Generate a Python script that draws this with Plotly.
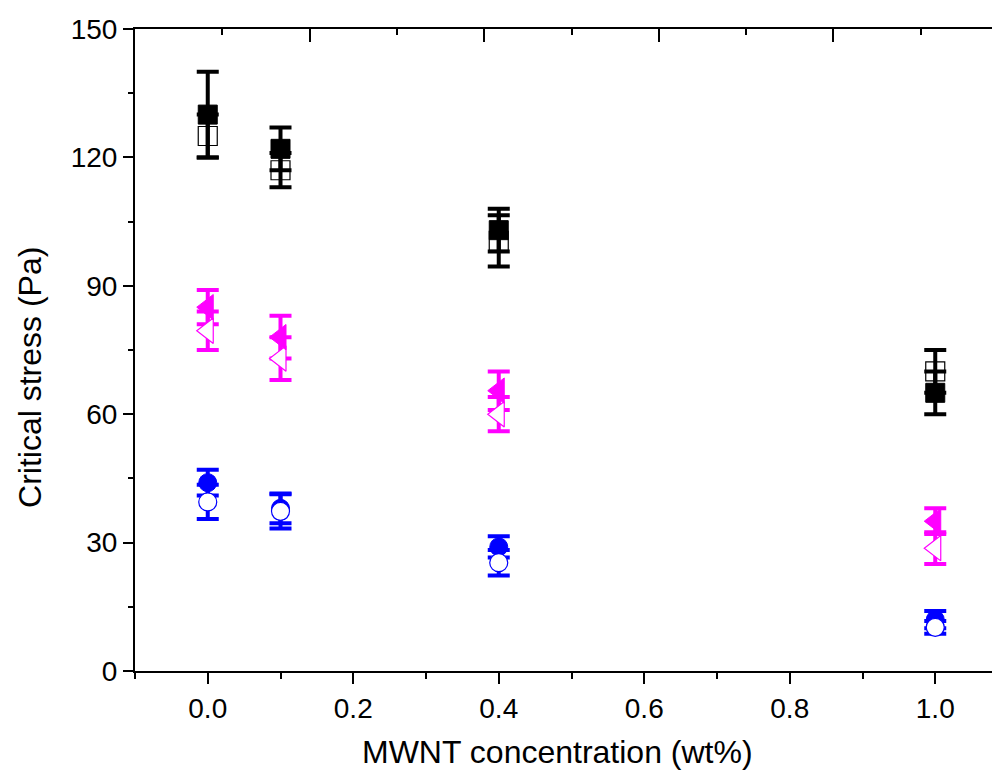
import plotly.graph_objects as go

# MWNT concentration (wt%)
conc = [0.0, 0.1, 0.4, 1.0]

# Black squares
black_filled = [130, 122, 103, 65]
black_filled_err = [10, 5, 5, 5]
black_open = [125, 117, 100.5, 70]
black_open_err = [5, 4, 6, 5]

# Magenta triangles
mag_filled = [85, 78, 65.5, 35]
mag_filled_err = [4, 5, 4.5, 3]
mag_open = [79.5, 73, 60, 28.7]
mag_open_err = [4.5, 5, 4, 3.7]

# Blue circles
blue_filled = [44, 38, 29, 12]
blue_filled_err = [3, 3.5, 2.5, 2]
blue_open = [39.5, 37.3, 25.3, 10.2]
blue_open_err = [4, 4, 3, 1.5]

x_ticks = [0.0, 0.2, 0.4, 0.6, 0.8, 1.0]
y_ticks = [0, 30, 60, 90, 120, 150]

x_title = "MWNT concentration (wt%)"
y_title = "Critical stress (Pa)"

FONT = "Liberation Sans, Arial, sans-serif"
BLACK, MAG, BLUE = "black", "#ff00ff", "#0000ff"

series = [
    # (values, errors, colour, symbol, size, fill, line width) in drawing order
    (black_open, black_open_err, BLACK, "square-open", 19, BLACK, 1.2),
    (mag_open, mag_open_err, MAG, "triangle-left", 22, "white", 1.2),
    (black_filled, black_filled_err, BLACK, "square", 19, BLACK, 1),
    (mag_filled, mag_filled_err, MAG, "triangle-left", 22, MAG, 1),
    (blue_filled, blue_filled_err, BLUE, "circle", 18, BLUE, 1),
    (blue_open, blue_open_err, BLUE, "circle", 18, "white", 1.2),
]

fig = go.Figure()

# error bars first
for y, err, color, symbol, size, fill, lw in series:
    fig.add_trace(go.Scatter(
        x=conc, y=y, mode="markers",
        marker=dict(size=1, opacity=0),
        error_y=dict(type="data", array=err, visible=True,
                     color=color, thickness=4, width=11),
        showlegend=False, cliponaxis=False, hoverinfo="skip",
    ))
# markers on top
for y, err, color, symbol, size, fill, lw in series:
    fig.add_trace(go.Scatter(
        x=conc, y=y, mode="markers",
        marker=dict(symbol=symbol, size=size, color=fill,
                    line=dict(color=color, width=lw)),
        showlegend=False, cliponaxis=False,
    ))

# dummy trace for the mirrored axes
fig.add_trace(go.Scatter(x=[], y=[], xaxis="x2", yaxis="y2", showlegend=False))

xr = [-0.1, 1.1]
fig.update_layout(
    width=1000, height=782,
    margin=dict(l=127, r=0, t=21, b=119, autoexpand=False),
    paper_bgcolor="white", plot_bgcolor="white",
    font=dict(family=FONT, color="black"),
    xaxis=dict(
        range=xr, tickmode="array", tickvals=x_ticks,
        ticktext=[f"{v:.1f}" for v in x_ticks],
        ticks="outside", ticklen=11, tickwidth=2, tickcolor="black",
        showline=True, linewidth=2, linecolor="black",
        showgrid=False, zeroline=False, automargin=False,
        tickfont=dict(size=28, family=FONT),
        minor=dict(ticks="outside", ticklen=6, tickwidth=2, tickcolor="black",
                   tickmode="linear", tick0=-0.1, dtick=0.1, showgrid=False),
    ),
    yaxis=dict(
        range=[0, 150], tickmode="array", tickvals=y_ticks,
        ticks="outside", ticklen=10, tickwidth=2, tickcolor="black",
        showline=True, linewidth=2, linecolor="black",
        showgrid=False, zeroline=False, automargin=False,
        tickfont=dict(size=28, family=FONT),
        minor=dict(ticks="outside", ticklen=5, tickwidth=2, tickcolor="black",
                   tickmode="linear", tick0=0, dtick=15, showgrid=False),
    ),
    xaxis2=dict(
        overlaying="x", side="top", anchor="y", range=xr,
        tickmode="linear", tick0=-0.1, dtick=0.24,
        ticks="inside", ticklen=13, tickwidth=2, tickcolor="black",
        showticklabels=False, showline=True, linewidth=2, linecolor="black",
        showgrid=False, zeroline=False, automargin=False,
        minor=dict(ticks="inside", ticklen=6, tickwidth=2, tickcolor="black",
                   tickmode="linear", tick0=0.02, dtick=0.24, showgrid=False),
    ),
    yaxis2=dict(
        overlaying="y", side="right", anchor="x", range=[0, 150],
        tickmode="linear", tick0=0, dtick=30,
        ticks="inside", ticklen=14, tickwidth=2, tickcolor="black",
        showticklabels=False, showline=True, linewidth=2, linecolor="black",
        showgrid=False, zeroline=False, automargin=False,
        minor=dict(ticks="inside", ticklen=6, tickwidth=2, tickcolor="black",
                   tickmode="linear", tick0=15, dtick=30, showgrid=False),
    ),
    annotations=[
        dict(text=x_title, xref="paper", yref="paper", x=0.4834, y=-0.126,
             xanchor="center", yanchor="middle", showarrow=False,
             font=dict(size=32, family=FONT, color="black")),
        dict(text=y_title, xref="paper", yref="paper", x=-0.1203, y=0.458,
             xanchor="center", yanchor="middle", showarrow=False, textangle=-90,
             font=dict(size=32, family=FONT, color="black")),
    ],
)

fig.write_html("out.html")
